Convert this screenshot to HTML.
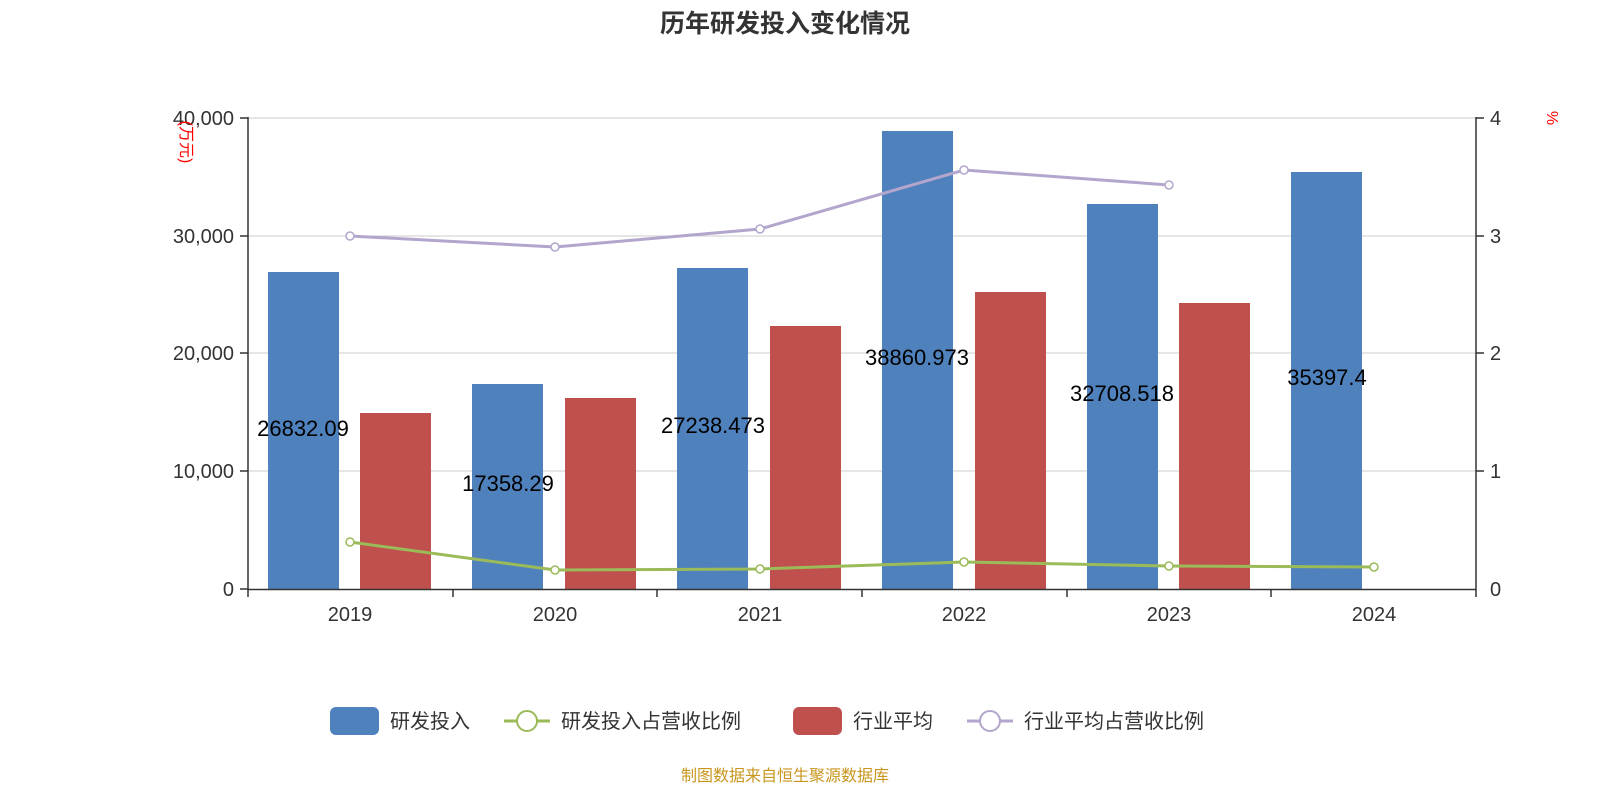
<!DOCTYPE html>
<html><head><meta charset="utf-8"><style>body{margin:0;background:#fff}svg{display:block}</style></head>
<body>
<svg width="1600" height="800" xmlns="http://www.w3.org/2000/svg" font-family="Liberation Sans, Noto Sans CJK SC, sans-serif">
<text x="785" y="32" text-anchor="middle" font-size="25" font-weight="bold" fill="#333">历年研发投入变化情况</text>
<g stroke="#ccc" stroke-width="1">
<line x1="248" y1="118" x2="1476" y2="118"/><line x1="248" y1="236" x2="1476" y2="236"/>
<line x1="248" y1="353" x2="1476" y2="353"/><line x1="248" y1="471" x2="1476" y2="471"/>
</g>
<g fill="#333" font-size="20" text-anchor="end">
<text x="234" y="125">40,000</text><text x="234" y="243">30,000</text><text x="234" y="360">20,000</text><text x="234" y="478">10,000</text><text x="234" y="596">0</text>
</g>
<g fill="#333" font-size="20">
<text x="1490" y="125">4</text><text x="1490" y="243">3</text><text x="1490" y="360">2</text><text x="1490" y="478">1</text><text x="1490" y="596">0</text>
</g>
<text transform="translate(181,142) rotate(90)" text-anchor="middle" font-size="16" fill="red">(万元)</text>
<text transform="translate(1547,118) rotate(90)" text-anchor="middle" font-size="16" fill="red">%</text>
<g fill="#4f81bd">
<rect x="268" y="272" width="71" height="317"/><rect x="472" y="384" width="71" height="205"/>
<rect x="677" y="268" width="71" height="321"/><rect x="882" y="131" width="71" height="458"/>
<rect x="1087" y="204" width="71" height="385"/><rect x="1291" y="172" width="71" height="417"/>
</g>
<g fill="#c0504d">
<rect x="360" y="413" width="71" height="176"/><rect x="565" y="398" width="71" height="191"/>
<rect x="770" y="326" width="71" height="263"/><rect x="975" y="292" width="71" height="297"/>
<rect x="1179" y="303" width="71" height="286"/>
</g>
<g stroke="#333" stroke-width="1.5">
<line x1="248" y1="117" x2="248" y2="597"/><line x1="1476" y1="117" x2="1476" y2="597"/>
<line x1="248" y1="589.5" x2="1476" y2="589.5"/>
<line x1="240" y1="118" x2="248" y2="118"/><line x1="240" y1="236" x2="248" y2="236"/><line x1="240" y1="353" x2="248" y2="353"/><line x1="240" y1="471" x2="248" y2="471"/><line x1="240" y1="589" x2="248" y2="589"/>
<line x1="1476" y1="118" x2="1484" y2="118"/><line x1="1476" y1="236" x2="1484" y2="236"/><line x1="1476" y1="353" x2="1484" y2="353"/><line x1="1476" y1="471" x2="1484" y2="471"/>
<line x1="453" y1="589" x2="453" y2="597"/><line x1="657" y1="589" x2="657" y2="597"/><line x1="862" y1="589" x2="862" y2="597"/><line x1="1067" y1="589" x2="1067" y2="597"/><line x1="1271" y1="589" x2="1271" y2="597"/>
</g>
<g fill="#333" font-size="20" text-anchor="middle">
<text x="350" y="621">2019</text><text x="555" y="621">2020</text><text x="760" y="621">2021</text><text x="964" y="621">2022</text><text x="1169" y="621">2023</text><text x="1374" y="621">2024</text>
</g>
<polyline points="350,236 555,247 760,229 964,170 1169,185" fill="none" stroke="#b3a6cc" stroke-width="3"/>
<g fill="#fff" stroke="#b3a6cc" stroke-width="1.5">
<circle cx="350" cy="236" r="4"/><circle cx="555" cy="247" r="4"/><circle cx="760" cy="229" r="4"/><circle cx="964" cy="170" r="4"/><circle cx="1169" cy="185" r="4"/>
</g>
<polyline points="350,542 555,570 760,569 964,562 1169,566 1374,567" fill="none" stroke="#9bbb59" stroke-width="3"/>
<g fill="#fff" stroke="#9bbb59" stroke-width="1.5">
<circle cx="350" cy="542" r="4"/><circle cx="555" cy="570" r="4"/><circle cx="760" cy="569" r="4"/><circle cx="964" cy="562" r="4"/><circle cx="1169" cy="566" r="4"/><circle cx="1374" cy="567" r="4"/>
</g>
<g fill="#000" font-size="22" text-anchor="middle">
<text x="303" y="436">26832.09</text><text x="508" y="491">17358.29</text><text x="713" y="433">27238.473</text>
<text x="917" y="365">38860.973</text><text x="1122" y="401">32708.518</text><text x="1327" y="385">35397.4</text>
</g>
<g font-size="20" fill="#333">
<rect x="330" y="707" width="49" height="28" rx="6" fill="#4f81bd"/><text x="390" y="728">研发投入</text>
<line x1="504" y1="721" x2="550" y2="721" stroke="#9bbb59" stroke-width="3"/><circle cx="527" cy="721" r="10" fill="#fff" stroke="#9bbb59" stroke-width="2"/>
<text x="561" y="728">研发投入占营收比例</text>
<rect x="793" y="707" width="49" height="28" rx="6" fill="#c0504d"/><text x="853" y="728">行业平均</text>
<line x1="967" y1="721" x2="1013" y2="721" stroke="#b3a6cc" stroke-width="3"/><circle cx="990" cy="721" r="10" fill="#fff" stroke="#b3a6cc" stroke-width="2"/>
<text x="1024" y="728">行业平均占营收比例</text>
</g>
<text x="785" y="781" text-anchor="middle" font-size="16" fill="#c8961e">制图数据来自恒生聚源数据库</text>
</svg>
</body></html>
